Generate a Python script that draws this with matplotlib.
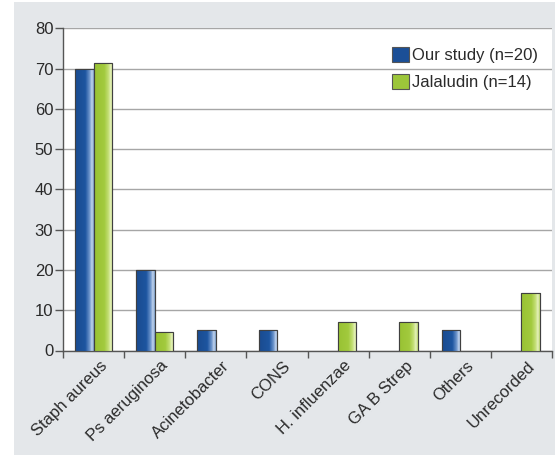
import matplotlib
matplotlib.use("Agg")
import matplotlib.pyplot as plt
import matplotlib.transforms as mtransforms
import numpy as np
from matplotlib.colors import LinearSegmentedColormap
from matplotlib.patches import Patch, Rectangle

plt.rcParams['font.family'] = ['Liberation Sans', 'DejaVu Sans']

categories = ["Staph aureus", "Ps aeruginosa", "Acinetobacter", "CONS",
              "H. influenzae", "GA B Strep", "Others", "Unrecorded"]
our_study = [70, 20, 5, 5, 0, 0, 5, 0]
jalaludin = [71.4, 4.5, 0, 0, 7.1, 7.1, 0, 14.3]
series_labels = ["Our study (n=20)", "Jalaludin (n=14)"]
y_ticks = [0, 10, 20, 30, 40, 50, 60, 70, 80]

blue_base = "#1b4f97"
green_base = "#9cc63a"
blue_cmap = LinearSegmentedColormap.from_list(
    "b", [(0, "#1a4b90"), (0.55, "#1d55a0"), (0.78, "#6f96cc"), (0.9, "#c4d6ee"), (1.0, "#7a9cc8")])
green_cmap = LinearSegmentedColormap.from_list(
    "g", [(0, "#98c233"), (0.55, "#a2ca3e"), (0.78, "#c6e07a"), (0.9, "#e6f2bf"), (1.0, "#b8d46a")])

W, H = 555, 455
fig = plt.figure(figsize=(W / 100, H / 100), dpi=100)
fig.patch.set_facecolor("white")
# gray panel
fig.add_artist(Rectangle((14 / W, 0), 1 - 14 / W, 1 - 2 / H, transform=fig.transFigure,
                         facecolor="#e4e7ea", edgecolor="none", zorder=0))

ax = fig.add_axes([63 / W, 1 - 350.5 / H, (552 - 63) / W, (350.5 - 28.3) / H])
ax.set_facecolor("white")
ax.set_zorder(1)

x = np.arange(len(categories))
bw = 0.3
bars1 = ax.bar(x - bw / 2, our_study, bw, color=blue_base, edgecolor="#3c3c3c", linewidth=0.8, zorder=3)
bars2 = ax.bar(x + bw / 2, jalaludin, bw, color=green_base, edgecolor="#4a4a4a", linewidth=0.8, zorder=3)

grad = np.linspace(0, 1, 64).reshape(1, -1)
for bars, cmap in ((bars1, blue_cmap), (bars2, green_cmap)):
    for p in bars:
        if p.get_height() <= 0:
            p.set_visible(False)
            continue
        x0 = p.get_x()
        im = ax.imshow(grad, cmap=cmap, aspect="auto",
                       extent=(x0, x0 + p.get_width(), 0, p.get_height()),
                       zorder=3.5, interpolation="bilinear")
        im.set_clip_path(p)
        ax.add_patch(Rectangle((x0, 0), p.get_width(), p.get_height(), fill=False,
                               edgecolor="#404040", linewidth=0.8, zorder=4))

ax.set_xlim(-0.5, len(categories) - 0.5)
ax.set_ylim(0, 80)
ax.set_yticks(y_ticks)
ax.yaxis.grid(True, color="#a6a6a6", linewidth=1.0, zorder=1)
ax.set_axisbelow(True)

ax.set_xticks(np.arange(-0.5, len(categories), 1.0))
ax.set_xticklabels([])
ax.tick_params(axis="x", which="major", length=5, width=1, color="#555555")
ax.tick_params(axis="y", length=6, width=1, color="#555555", labelsize=12, labelcolor="#2a2a2a", pad=1)

offset = mtransforms.ScaledTranslation(11 / 100, -13 / 100, fig.dpi_scale_trans)
lbl_tr = ax.get_xaxis_transform() + offset
for xi, name in zip(x, categories):
    ax.text(xi, 0, name, transform=lbl_tr, rotation=45, ha="right", va="center",
            rotation_mode="anchor", fontsize=12, color="#2a2a2a", clip_on=False)

for s in ("top", "right"):
    ax.spines[s].set_visible(False)
for s in ("left", "bottom"):
    ax.spines[s].set_color("#555555")
    ax.spines[s].set_linewidth(1.0)

handles = [Patch(facecolor=blue_base, edgecolor="#555555", linewidth=0.8),
           Patch(facecolor=green_base, edgecolor="#555555", linewidth=0.8)]
ax.legend(handles, series_labels, loc="upper right", bbox_to_anchor=(538 / W, 1 - 47 / H),
          bbox_transform=fig.transFigure, frameon=False, fontsize=12, labelcolor="#2a2a2a",
          handlelength=1.0, handleheight=1.0, handletextpad=0.2, labelspacing=0.65,
          borderaxespad=0, borderpad=0)

fig.savefig("out.png", dpi=100, facecolor=fig.get_facecolor())
